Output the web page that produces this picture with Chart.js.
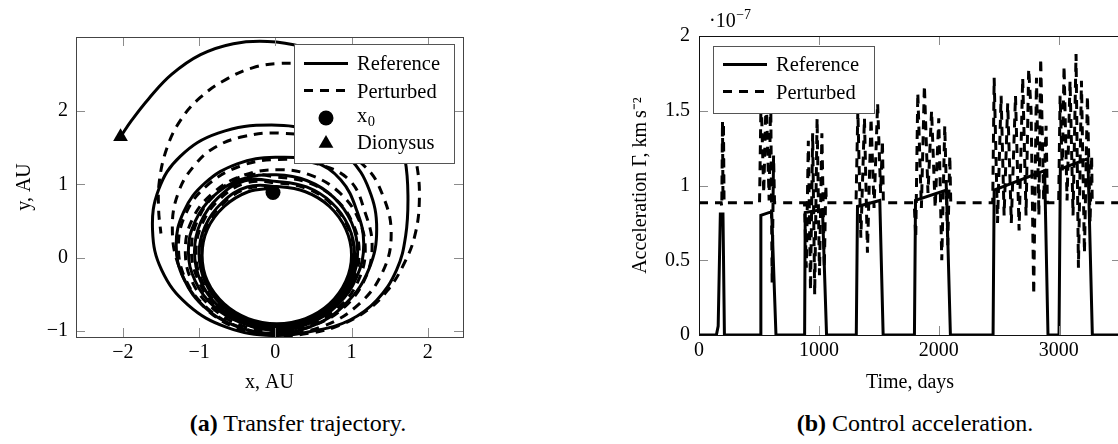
<!DOCTYPE html>
<html>
<head>
<meta charset="utf-8">
<script src="https://cdn.jsdelivr.net/npm/chart.js@4.4.1/dist/chart.umd.min.js"></script>
<style>
  html, body { margin: 0; padding: 0; overflow: hidden; background: #fff; }
  body { position: relative; width: 1118px; height: 444px; }
  canvas { position: absolute; top: 0; }
  .cap { position: absolute; top: 411px; transform: translateX(-50%); white-space: nowrap;
         font: 24px "Liberation Serif", "Times New Roman", serif; color: #000; line-height: 24px; }
</style>
</head>
<body>
<canvas id="traj" width="480" height="400" style="left:0"></canvas>
<canvas id="accel" width="600" height="400" style="left:560px"></canvas>
<div class="cap" style="left:298px"><b>(a)</b> Transfer trajectory.</div>
<div class="cap" style="left:915px"><b>(b)</b> Control acceleration.</div>
<script>
// ---- Transfer trajectory (heliocentric x, y in AU), counter-clockwise ----
const referencePath = [
  [-0.03,0.95],[-0.355,0.90],[-0.67,0.70],[-0.89,0.39],[-0.96,0.035],[-0.89,-0.32],[-0.67,-0.63],[-0.355,-0.83],
  [0.02,-0.90],[0.395,-0.83],[0.71,-0.63],[0.925,-0.32],[1.00,0.035],[0.925,0.39],[0.71,0.70],[0.395,0.90],
  [0.02,0.97],
  [-0.37,0.965],[-0.70,0.75],[-0.92,0.43],[-1.00,0.05],[-0.92,-0.33],[-0.70,-0.65],[-0.37,-0.865],[0.02,-0.94],
  [0.41,-0.865],[0.74,-0.65],[0.96,-0.33],[1.04,0.05],[0.96,0.43],[0.74,0.75],[0.41,0.965],[0.02,1.04],
  [-0.40,1.05],[-0.75,0.82],[-0.98,0.48],[-1.06,0.08],[-0.98,-0.32],[-0.75,-0.66],[-0.40,-0.89],[0.01,-0.97],
  [0.42,-0.89],[0.77,-0.66],[1.00,-0.32],[1.08,0.08],[1.00,0.48],[0.77,0.82],[0.42,1.05],[0.01,1.13],
  [-0.44,1.07],[-0.81,0.84],[-1.05,0.50],[-1.14,0.09],[-1.05,-0.32],[-0.81,-0.66],[-0.44,-0.89],[0.00,-0.99],
  [0.44,-0.90],[0.82,-0.64],[1.07,-0.26],[1.16,0.19],[1.07,0.64],[0.86,1.06],[0.50,1.31],[0.00,1.37],
  [-0.50,1.28],[-0.92,1.02],[-1.20,0.63],[-1.30,0.17],[-1.20,-0.29],[-0.92,-0.68],[-0.50,-0.94],[0.00,-1.03],
  [0.51,-0.92],[0.94,-0.61],[1.23,-0.15],[1.33,0.39],[1.23,0.93],[0.97,1.36],[0.51,1.70],[-0.05,1.81],
  [-0.75,1.70],[-1.25,1.38],[-1.53,0.93],[-1.61,0.375],[-1.49,-0.17],[-1.15,-0.64],[-0.635,-0.95],[-0.03,-1.06],
  [0.55,-0.99],[0.98,-0.85],[1.33,-0.58],[1.59,-0.17],[1.71,0.30],[1.74,0.85],[1.70,1.35],[1.56,1.88],
  [1.28,2.35],[0.85,2.69],[0.35,2.88],[-0.10,2.95],[-0.55,2.92],[-0.98,2.77],[-1.36,2.50],[-1.66,2.17],
  [-1.88,1.88],[-2.03,1.65]
];
const perturbedPath = [
  [-0.03,0.95],[-0.36,0.945],[-0.69,0.735],[-0.90,0.42],[-0.98,0.05],[-0.90,-0.32],[-0.69,-0.64],[-0.36,-0.85],
  [0.025,-0.92],[0.41,-0.85],[0.735,-0.64],[0.95,-0.32],[1.03,0.05],[0.95,0.42],[0.735,0.735],[0.41,0.945],
  [0.025,1.02],
  [-0.38,1.02],[-0.73,0.80],[-0.96,0.46],[-1.04,0.07],[-0.96,-0.32],[-0.73,-0.66],[-0.38,-0.88],[0.03,-0.955],
  [0.44,-0.88],[0.79,-0.66],[1.02,-0.32],[1.10,0.07],[1.02,0.46],[0.79,0.80],[0.44,1.02],[0.03,1.10],
  [-0.40,1.12],[-0.77,0.88],[-1.01,0.53],[-1.10,0.11],[-1.01,-0.31],[-0.77,-0.66],[-0.40,-0.90],[0.04,-0.985],
  [0.48,-0.90],[0.85,-0.66],[1.09,-0.31],[1.18,0.11],[1.09,0.53],[0.85,0.88],[0.48,1.12],[0.04,1.20],
  [-0.43,1.12],[-0.82,0.88],[-1.09,0.52],[-1.18,0.095],[-1.09,-0.33],[-0.82,-0.69],[-0.43,-0.93],[0.04,-1.01],
  [0.51,-0.92],[0.91,-0.67],[1.18,-0.28],[1.27,0.165],[1.18,0.61],[0.98,1.05],[0.55,1.28],[0.04,1.34],
  [-0.46,1.25],[-0.89,0.99],[-1.17,0.61],[-1.27,0.15],[-1.17,-0.31],[-0.89,-0.69],[-0.46,-0.95],[0.04,-1.04],
  [0.61,-0.94],[1.09,-0.64],[1.41,-0.19],[1.52,0.33],[1.41,0.85],[1.17,1.25],[0.61,1.60],[0.04,1.70],
  [-0.43,1.65],[-0.80,1.50],[-1.06,1.26],[-1.26,0.92],[-1.35,0.45],[-1.27,-0.10],[-0.98,-0.62],[-0.52,-0.955],
  [0.00,-1.06],[0.45,-1.03],[0.85,-0.92],[1.20,-0.72],[1.47,-0.45],[1.68,-0.10],[1.83,0.30],[1.89,0.80],
  [1.85,1.30],[1.72,1.82],[1.45,2.25],[1.00,2.52],[0.50,2.63],[0.05,2.65],[-0.30,2.59],[-0.65,2.43],
  [-0.98,2.19],[-1.24,1.88],[-1.42,1.50],[-1.52,1.05],[-1.53,0.65],[-1.50,0.33]
];
const startPoint = [-0.03, 0.89];      // x0
const dionysusPoint = [-2.03, 1.65];   // target
const trajXTicks = [-2, -1, 0, 1, 2];
const trajYTicks = [-1, 0, 1, 2];
const trajXRange = [-2.614, 2.462];
const trajYRange = [-1.082, 3.011];

// ---- Control acceleration (days, 1e-7 km/s^2) ----
const referenceDays  = [0,145,160,178,200,212, 512,516,588,606,642, 881,886,1030,1064,
                        1312,1322,1508,1536, 1797,1806,2064,2097, 2453,2462,2883,2911, 3003,3014,3244,3281, 3520];
const referenceAccel = [0,0,0.06,0.81,0.81,0, 0,0.80,0.82,0.82,0, 0,0.82,0.84,0,
                        0,0.86,0.90,0, 0,0.90,0.97,0, 0,0.97,1.10,0, 0,1.11,1.18,0, 0];
const perturbedSamples = [
  [0,0.885],
  [185,0.885],[190,0.86],[196,1.43],[200,0.90],[204,1.42],[209,0.885],
  [505,0.885],[518,1.60],[540,0.95],[560,1.60],[585,0.90],[598,1.60],[610,0.35],[622,1.20],[630,0.885],
  [880,0.885],[895,0.45],[912,1.30],[930,0.30],[948,1.35],[965,0.27],[985,1.45],[1005,0.40],[1025,1.35],
  [1045,0.45],[1058,1.00],[1062,0.885],
  [1310,0.885],[1325,1.50],[1350,0.65],[1380,1.45],[1405,0.55],[1435,1.45],[1460,0.85],[1490,1.55],
  [1515,0.95],[1530,1.30],[1538,0.885],
  [1795,0.885],[1808,0.65],[1825,1.62],[1855,0.85],[1880,1.67],[1910,0.95],[1940,1.50],[1970,0.85],
  [2000,1.45],[2025,0.50],[2050,1.40],[2075,0.60],[2092,1.20],[2100,0.885],
  [2450,0.885],[2462,1.72],[2490,0.75],[2520,1.60],[2545,0.80],[2575,1.55],[2605,0.75],[2640,1.60],
  [2670,0.70],[2700,1.72],[2728,0.80],[2750,1.78],[2770,1.50],[2792,0.27],[2815,1.72],[2835,0.80],
  [2850,1.85],[2875,0.90],[2895,1.40],[2906,0.885],
  [3000,0.885],[3012,1.60],[3030,1.10],[3045,1.80],[3070,0.90],[3095,1.70],[3120,0.80],[3145,1.88],
  [3165,0.45],[3190,1.70],[3215,0.55],[3240,1.60],[3262,0.75],[3275,1.20],[3280,0.885],
  [3520,0.885]
];
const accelXTicks = [0, 1000, 2000, 3000];
const accelYTicks = [0, 0.5, 1, 1.5, 2];
const accelXRange = [0, 3520];
const accelYRange = [0, 2];

// ---- shared styling ----
const SERIF = '"Liberation Serif", "Times New Roman", serif';
const font20 = { family: SERIF, size: 20 };
const LINE_W = 3;
const DASH = [9, 7];
const fmtNum = v => (v < 0 ? '\u2212' + Math.abs(v) : String(v));

// inward tick marks on all four sides plus the axis frame
const frameTicks = {
  id: 'frameTicks',
  afterDatasetsDraw(chart, args, opts) {
    const { ctx, chartArea: a, scales: { x, y } } = chart;
    const L = 9;
    ctx.save();
    ctx.strokeStyle = '#8c8c8c';
    ctx.lineWidth = 1;
    ctx.beginPath();
    x.ticks.forEach(t => {
      const p = Math.round(x.getPixelForValue(t.value)) + 0.5;
      if (p > a.left + 2 && p < a.right - 2) {
        ctx.moveTo(p, a.bottom); ctx.lineTo(p, a.bottom - L);
        ctx.moveTo(p, a.top); ctx.lineTo(p, a.top + L);
      }
    });
    y.ticks.forEach(t => {
      const p = Math.round(y.getPixelForValue(t.value)) + 0.5;
      if (p > a.top + 2 && p < a.bottom - 2) {
        ctx.moveTo(a.left, p); ctx.lineTo(a.left + L, p);
        ctx.moveTo(a.right, p); ctx.lineTo(a.right - L, p);
      }
    });
    ctx.stroke();
    ctx.strokeStyle = opts.frameColor || '#222';
    ctx.strokeRect(Math.round(a.left) + 0.5, Math.round(a.top) + 0.5,
                   Math.round(a.right - a.left), Math.round(a.bottom - a.top));
    ctx.restore();
  }
};

// boxed legend drawn at fixed spots inside the plot
const boxLegend = {
  id: 'boxLegend',
  afterDraw(chart, args, o) {
    const ctx = chart.ctx;
    ctx.save();
    ctx.fillStyle = '#fff';
    ctx.fillRect(o.box[0], o.box[1], o.box[2], o.box[3]);
    ctx.strokeStyle = '#555';
    ctx.lineWidth = 1;
    ctx.strokeRect(o.box[0] + 0.5, o.box[1] + 0.5, o.box[2], o.box[3]);
    ctx.fillStyle = '#000';
    ctx.strokeStyle = '#000';
    o.items.forEach(it => {
      const [x1, x2] = o.sample;
      const cx = (x1 + x2) / 2;
      if (it.kind === 'line') {
        ctx.lineWidth = LINE_W;
        ctx.setLineDash(it.dash || []);
        ctx.beginPath(); ctx.moveTo(x1, it.y); ctx.lineTo(x2, it.y); ctx.stroke();
        ctx.setLineDash([]);
      } else if (it.kind === 'circle') {
        ctx.beginPath(); ctx.arc(cx, it.y, 7.5, 0, Math.PI * 2); ctx.fill();
      } else if (it.kind === 'triangle') {
        const r = 8.5, s = r * Math.sin(Math.PI / 3);
        ctx.beginPath();
        ctx.moveTo(cx, it.y - r); ctx.lineTo(cx - s, it.y + r / 2); ctx.lineTo(cx + s, it.y + r / 2);
        ctx.closePath(); ctx.fill();
      }
      ctx.font = '20.5px ' + SERIF;
      ctx.textBaseline = 'alphabetic';
      ctx.textAlign = 'left';
      ctx.fillText(it.text, o.textX, it.base);
      if (it.sub) {
        const w = ctx.measureText(it.text).width;
        ctx.font = '14.5px ' + SERIF;
        ctx.fillText(it.sub, o.textX + w + 0.5, it.base + 4);
      }
    });
    ctx.restore();
  }
};

// power-of-ten multiplier above the y axis
const axisExponent = {
  id: 'axisExponent',
  afterDraw(chart, args, o) {
    if (!o.text) return;
    const ctx = chart.ctx;
    ctx.save();
    ctx.fillStyle = '#000';
    ctx.textBaseline = 'alphabetic';
    ctx.font = '20px ' + SERIF;
    ctx.fillText(o.text, o.x, o.y);
    const w = ctx.measureText(o.text).width;
    ctx.font = '14px ' + SERIF;
    ctx.fillText(o.sup, o.x + w + 0.5, o.y - 8);
    ctx.restore();
  }
};

function axis(range, ticks, title, size, tickPad, titlePad) {
  return {
    type: 'linear',
    min: range[0], max: range[1],
    grid: { display: false, drawTicks: false },
    border: { display: false },
    afterBuildTicks: s => { s.ticks = ticks.map(v => ({ value: v })); },
    afterFit: s => { if (s.isHorizontal()) s.height = size; else s.width = size; },
    ticks: { font: font20, color: '#000', padding: tickPad, autoSkip: false, maxRotation: 0,
             callback: v => fmtNum(v) },
    title: { display: true, text: title, font: font20, color: '#000', padding: titlePad }
  };
}

const toXY = arr => arr.map(p => ({ x: p[0], y: p[1] }));

new Chart(document.getElementById('traj'), {
  type: 'scatter',
  data: {
    datasets: [
      { label: 'x0', data: toXY([startPoint]), pointStyle: 'circle', pointRadius: 7.5,
        backgroundColor: '#000', borderWidth: 0 },
      { label: 'Dionysus', data: toXY([dionysusPoint]), pointStyle: 'triangle', pointRadius: 8.5,
        backgroundColor: '#000', borderWidth: 0 },
      { label: 'Reference', data: toXY(referencePath), showLine: true, tension: 0.4, pointRadius: 0,
        borderColor: '#000', borderWidth: LINE_W, fill: false },
      { label: 'Perturbed', data: toXY(perturbedPath), showLine: true, tension: 0.4, pointRadius: 0,
        borderColor: '#000', borderWidth: LINE_W, borderDash: DASH, fill: false }
    ]
  },
  options: {
    responsive: false, animation: false, devicePixelRatio: 1,
    layout: { padding: { left: 0, top: 37, right: 17, bottom: 0 } },
    plugins: {
      legend: { display: false }, tooltip: { enabled: false },
      frameTicks: { frameColor: '#444' },
      boxLegend: {
        box: [294, 44, 160, 119], sample: [304, 348], textX: 357,
        items: [
          { kind: 'line', y: 63.5, base: 70, text: 'Reference' },
          { kind: 'line', y: 90.5, dash: DASH, base: 97.5, text: 'Perturbed' },
          { kind: 'circle', y: 118, base: 122, text: 'x', sub: '0' },
          { kind: 'triangle', y: 143.5, base: 148.5, text: 'Dionysus' }
        ]
      }
    },
    scales: {
      x: axis(trajXRange, trajXTicks, 'x, AU', 63, 4, { top: 0, bottom: 5 }),
      y: axis(trajYRange, trajYTicks, 'y, AU', 76, 8, { top: 13, bottom: 0 })
    }
  },
  plugins: [frameTicks, boxLegend]
});

new Chart(document.getElementById('accel'), {
  type: 'scatter',
  data: {
    datasets: [
      { label: 'Reference', data: referenceDays.map((d, i) => ({ x: d, y: referenceAccel[i] })),
        showLine: true, tension: 0, pointRadius: 0, borderColor: '#000', borderWidth: LINE_W, fill: false },
      { label: 'Perturbed', data: toXY(perturbedSamples),
        showLine: true, tension: 0, pointRadius: 0, borderColor: '#000', borderWidth: LINE_W,
        borderDash: DASH, fill: false }
    ]
  },
  options: {
    responsive: false, animation: false, devicePixelRatio: 1,
    layout: { padding: { left: 0, top: 36, right: 39, bottom: 0 } },
    plugins: {
      legend: { display: false }, tooltip: { enabled: false },
      frameTicks: { frameColor: '#111' },
      boxLegend: {
        box: [153, 46, 161, 67], sample: [163, 207], textX: 216,
        items: [
          { kind: 'line', y: 64.5, base: 71, text: 'Reference' },
          { kind: 'line', y: 91.5, dash: DASH, base: 98.5, text: 'Perturbed' }
        ]
      },
      axisExponent: { text: '\u00b710', sup: '\u22127', x: 149, y: 27 }
    },
    scales: {
      x: axis(accelXRange, accelXTicks, 'Time, days', 65, 4, { top: 0, bottom: 5 }),
      y: axis(accelYRange, accelYTicks, 'Acceleration \u0393, km\u2009s\u207b\u00b2', 139, 9, { top: 69, bottom: 0 })
    }
  },
  plugins: [frameTicks, boxLegend, axisExponent]
});
</script>
</body>
</html>
